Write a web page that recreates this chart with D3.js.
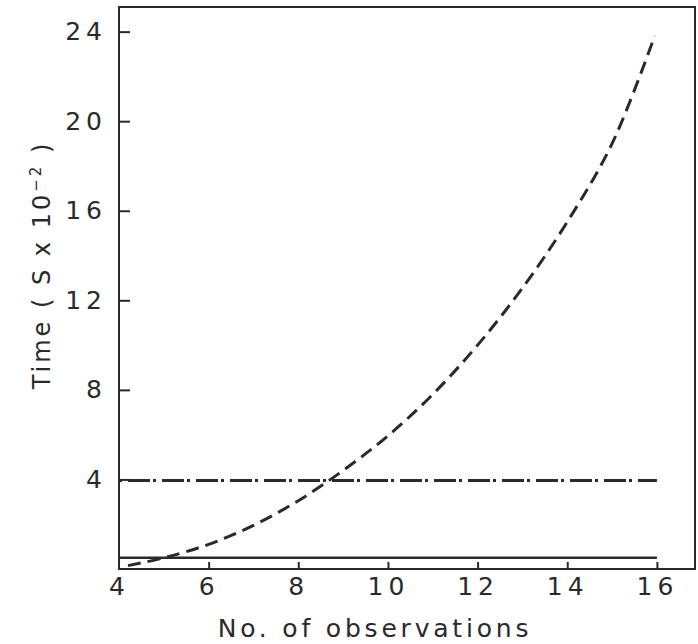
<!DOCTYPE html>
<html>
<head>
<meta charset="utf-8">
<script src="https://cdn.jsdelivr.net/npm/d3@7"></script>
<style>
  body { margin: 0; background: #fff; }
  svg { display: block; }
</style>
</head>
<body>
<svg width="698" height="644"></svg>
<script>
// curve values
var obsX = [4.2, 5, 6, 7, 8, 9, 10, 11, 12, 13, 14, 15, 15.95];
var timeDashed = [0.15, 0.5, 1.1, 1.95, 3.05, 4.4, 5.95, 7.8, 10.0, 12.55, 15.5, 19.0, 23.8];
var flatX = [4, 16];
var timeSolid = [0.5, 0.5];
var timeDashDot = [3.95, 3.95];
var xTicks = [4, 6, 8, 10, 12, 14, 16];
var yTicks = [4, 8, 12, 16, 20, 24];

var svg = d3.select("svg");
var ink = "#2a2a2a";
var font = "DejaVu Sans";

var x = d3.scaleLinear().domain([4, 16.85]).range([119, 695]);
var y = d3.scaleLinear().domain([0, 25.1]).range([569, 7]);

// frame
svg.append("rect")
  .attr("x", x(4)).attr("y", y(25.1))
  .attr("width", x(16.85) - x(4)).attr("height", y(0) - y(25.1))
  .attr("fill", "none").attr("stroke", ink).attr("stroke-width", 2);

// axes with inward ticks
var gx = svg.append("g")
  .attr("transform", "translate(0," + y(0) + ")")
  .call(d3.axisBottom(x).tickValues(xTicks).tickSize(-7).tickPadding(8));
var gy = svg.append("g")
  .attr("transform", "translate(" + x(4) + ",0)")
  .call(d3.axisLeft(y).tickValues(yTicks).tickSize(-11).tickPadding(12));

[gx, gy].forEach(function(g) {
  g.select(".domain").remove();
  g.selectAll("line").attr("stroke", ink).attr("stroke-width", 2);
  g.selectAll("text")
    .attr("fill", ink)
    .attr("font-family", font)
    .attr("font-size", "25px")
    .attr("letter-spacing", "5px");
});
gx.selectAll(".tick").filter(function(d) { return d === 4; }).select("line").remove();

// lines
var line = d3.line()
  .x(function(d) { return x(d[0]); })
  .y(function(d) { return y(d[1]); });

svg.append("path")
  .datum(flatX.map(function(v, i) { return [v, timeSolid[i]]; }))
  .attr("d", line)
  .attr("fill", "none").attr("stroke", ink).attr("stroke-width", 2.5);

svg.append("path")
  .datum(flatX.map(function(v, i) { return [v, timeDashDot[i]]; }))
  .attr("d", line)
  .attr("fill", "none").attr("stroke", ink).attr("stroke-width", 3)
  .attr("stroke-dasharray", "3,6,22,3");

svg.append("path")
  .datum(obsX.map(function(v, i) { return [v, timeDashed[i]]; }))
  .attr("d", line.curve(d3.curveCatmullRom))
  .attr("fill", "none").attr("stroke", ink).attr("stroke-width", 3)
  .attr("stroke-dasharray", "13,7");

// axis titles
svg.append("text")
  .attr("x", 375).attr("y", 637)
  .attr("text-anchor", "middle")
  .attr("font-family", font)
  .attr("font-size", "25px")
  .attr("letter-spacing", "3.8px")
  .attr("fill", ink)
  .text("No. of observations");

var yt = svg.append("text")
  .attr("transform", "translate(50,265) rotate(-90)")
  .attr("text-anchor", "middle")
  .attr("font-family", font)
  .attr("font-size", "24px")
  .attr("letter-spacing", "3px")
  .attr("fill", ink);
yt.append("tspan").text("Time ( S x 10");
yt.append("tspan").attr("baseline-shift", "super").attr("font-size", "15px").text("−2");
yt.append("tspan").text(" )");
</script>
</body>
</html>
